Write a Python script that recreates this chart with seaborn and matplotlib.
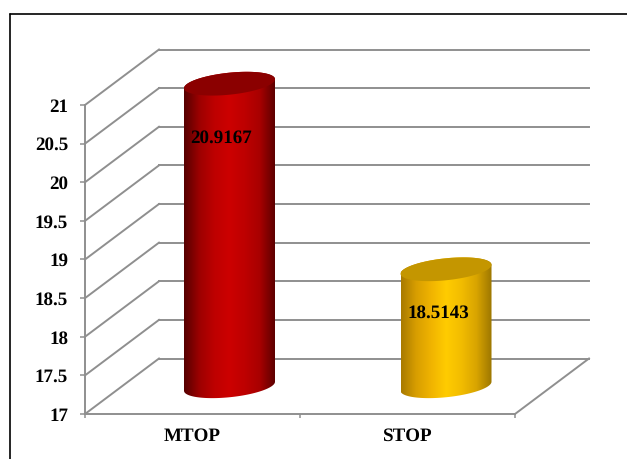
import matplotlib
matplotlib.use("Agg")
import matplotlib.pyplot as plt
import numpy as np
import seaborn as sns
from matplotlib.colors import LinearSegmentedColormap
from matplotlib.lines import Line2D
from matplotlib.patches import Polygon

categories = ["MTOP", "STOP"]
values = [20.9167, 18.5143]
y_ticks = [17, 17.5, 18, 18.5, 19, 19.5, 20, 20.5, 21]
y_labels = ["17", "17.5", "18", "18.5", "19", "19.5", "20", "20.5", "21"]
top_colors = ["#8B0000", "#C49600"]
side_ramps = [
    ["#560000", "#9C0000", "#BE0000", "#CC0000", "#BE0000", "#A80000", "#5E0000"],
    ["#A87A00", "#D89E00", "#F0B400", "#FFCC00", "#F2BC00", "#D8A400", "#9C7600"],
]
label_shift_px = [(-8, -54.5), (-7.5, -43.5)]
bar_shift_px = [0, 1.5]

W, H, DPI = 627, 459, 100
PX_X = 215.0    # pixels per category step
PX_Y = 77.25    # pixels per value unit
DEPTH_X, DEPTH_Y = 74 / PX_X, 55.5 / PX_Y
GRID = "#8F8F8F"
LINE_W = 1.4
RADIUS = 45.5 / PX_X
TILT, MINOR = 4.5 / PX_Y, 11 / PX_Y
FONT_SIZE = 13.5

sns.set_style("white")
plt.rcParams["font.family"] = ["Liberation Serif", "DejaVu Serif"]
plt.rcParams["text.hinting"] = "no_hinting"
plt.rcParams["text.hinting_factor"] = 1

fig = plt.figure(figsize=(W / DPI, H / DPI), dpi=DPI, facecolor="white")
ax = fig.add_axes([0, 0, 1, 1])
ax.patch.set_alpha(0)

sns.barplot(x=categories, y=values, hue=categories, palette=top_colors,
            width=2 * RADIUS, legend=False, ax=ax)
bars = list(ax.patches)[:len(values)]

xlim = (-192.5 / PX_X, (W - 192.5) / PX_X)
ylim = (17 - (H - 414) / PX_Y, 21 + 105 / PX_Y)

# Floor and walls of the 3D box
x0, x1 = -0.5, 1.5
line_kw = dict(color=GRID, lw=LINE_W, solid_capstyle="projecting", zorder=1)
for v in y_ticks:
    ax.plot([x0, x0 + DEPTH_X], [v, v + DEPTH_Y], **line_kw)
    ax.plot([x0 + DEPTH_X, x1 + DEPTH_X], [v + DEPTH_Y, v + DEPTH_Y], **line_kw)
ax.plot([x1, x1 + DEPTH_X], [17, 17 + DEPTH_Y], **line_kw)

# Axis lines and ticks live on the spines, pinned to the front of the box
for side in ("top", "right"):
    ax.spines[side].set_visible(False)
for side in ("left", "bottom"):
    ax.spines[side].set_color(GRID)
    ax.spines[side].set_linewidth(LINE_W)
ax.spines["left"].set_position(("data", x0))
ax.spines["bottom"].set_position(("data", 17))
ax.spines["left"].set_bounds(17, 21)
ax.spines["bottom"].set_bounds(x0, x1)
ax.set_yticks(y_ticks, y_labels)
ax.set_xticks(range(len(categories)), categories)
ax.set_xticks([x0, 0.5, x1], minor=True)
ax.tick_params(axis="y", which="major", left=True, length=3.6, width=1.1, color=GRID,
               pad=8.5, labelsize=FONT_SIZE)
ax.tick_params(axis="x", which="major", bottom=False, length=0, pad=10, labelsize=FONT_SIZE)
ax.tick_params(axis="x", which="minor", bottom=True, length=3.2, width=1.1, color=GRID)
for lab in ax.get_xticklabels() + ax.get_yticklabels():
    lab.set_fontweight("bold")
    lab.set_color("black")

# Cylinders built from the bar geometry
t_low = np.linspace(np.pi, 2 * np.pi, 60)
t_up = np.linspace(0, np.pi, 60)
for i, bar in enumerate(bars):
    bar.set_visible(False)
    cx = bar.get_x() + bar.get_width() / 2 + DEPTH_X / 2 + bar_shift_px[i] / PX_X
    value = bar.get_height()
    base = 17 + DEPTH_Y / 2
    top = value + DEPTH_Y / 2

    def rim(t, yc):
        return np.column_stack([cx + RADIUS * np.cos(t),
                                yc + TILT * np.cos(t) + MINOR * np.sin(t)])

    outline = np.vstack([rim(t_low, base), rim(t_up, top)])
    body = Polygon(outline, closed=True, fc="none", ec="none", zorder=3)
    ax.add_patch(body)
    cmap = LinearSegmentedColormap.from_list(f"side{i}", side_ramps[i])
    im = ax.imshow(np.linspace(0, 1, 256)[None, :], cmap=cmap, aspect="auto",
                   extent=[cx - RADIUS, cx + RADIUS, base - 2 * MINOR, top + 2 * MINOR],
                   interpolation="bilinear", zorder=3)
    im.set_clip_path(body)

    full = np.linspace(0, 2 * np.pi, 120)
    ax.add_patch(Polygon(rim(full, top), closed=True, fc=top_colors[i], ec="none", zorder=4))

    sx, sy = label_shift_px[i]
    ax.text(cx + sx / PX_X, top + sy / PX_Y, f"{values[i]:.4f}", ha="center", va="center",
            fontsize=FONT_SIZE, fontweight="bold", color="black", zorder=5)

ax.set_xlim(*xlim)
ax.set_ylim(*ylim)
ax.set_xlabel("")
ax.set_ylabel("")

# Outer frame, cut off by the right and bottom edges of the image
frame_x, frame_y = 10 / W, 1 - 13.5 / H
for xs, ys in (([frame_x, frame_x], [0, frame_y]), ([frame_x, 1], [frame_y, frame_y])):
    fig.add_artist(Line2D(xs, ys, transform=fig.transFigure, color="black", lw=1.2))

fig.savefig("out.png", dpi=DPI)
